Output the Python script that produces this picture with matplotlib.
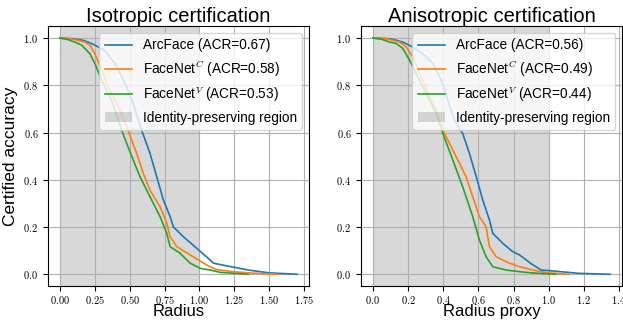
import matplotlib
matplotlib.use('Agg')
import matplotlib.pyplot as plt

# isotropic certification curves (radius, certified accuracy)
iso_arc_r = [0, 0.1, 0.17, 0.227, 0.323, 0.395, 0.467, 0.526, 0.586, 0.646, 0.694, 0.742,
             0.79, 0.813, 0.885, 0.981, 1.077, 1.1, 1.2, 1.36, 1.5, 1.7]
iso_arc_a = [1.0, 0.997, 0.99, 0.977, 0.948, 0.892, 0.808, 0.723, 0.61, 0.512, 0.413, 0.314,
             0.244, 0.201, 0.159, 0.11, 0.06, 0.047, 0.035, 0.017, 0.006, 0.0]
iso_fc_r = [0, 0.1, 0.18, 0.215, 0.25, 0.30, 0.347, 0.419, 0.479, 0.515, 0.55, 0.598, 0.646,
            0.718, 0.766, 0.79, 0.838, 0.933, 1.053, 1.12, 1.24, 1.38, 1.56]
iso_fc_a = [1.0, 0.995, 0.983, 0.97, 0.934, 0.864, 0.793, 0.709, 0.624, 0.568, 0.512, 0.427,
            0.356, 0.286, 0.216, 0.159, 0.117, 0.082, 0.039, 0.02, 0.011, 0.005, 0.0]
iso_fv_r = [0, 0.05, 0.108, 0.156, 0.215, 0.251, 0.30, 0.371, 0.443, 0.479, 0.526, 0.574,
            0.646, 0.718, 0.766, 0.79, 0.861, 0.933, 1.005, 1.077, 1.15, 1.35]
iso_fv_a = [1.0, 0.995, 0.983, 0.97, 0.934, 0.892, 0.822, 0.737, 0.61, 0.554, 0.483, 0.413,
            0.328, 0.244, 0.173, 0.117, 0.089, 0.047, 0.025, 0.018, 0.008, 0.0]

# anisotropic certification curves (radius proxy, certified accuracy)
ani_arc_r = [0, 0.1, 0.17, 0.227, 0.284, 0.341, 0.389, 0.426, 0.464, 0.511, 0.549, 0.588,
             0.625, 0.663, 0.682, 0.739, 0.795, 0.834, 0.9, 0.957, 1.04, 1.17, 1.35]
ani_arc_a = [1.0, 0.997, 0.983, 0.962, 0.934, 0.892, 0.822, 0.737, 0.652, 0.596, 0.512, 0.413,
             0.314, 0.23, 0.173, 0.131, 0.096, 0.082, 0.045, 0.018, 0.013, 0.004, 0.0]
ani_fc_r = [0, 0.08, 0.152, 0.19, 0.227, 0.284, 0.322, 0.36, 0.398, 0.436, 0.474, 0.53,
            0.568, 0.606, 0.644, 0.663, 0.701, 0.777, 0.834, 0.91, 0.985, 1.117]
ani_fc_a = [1.0, 0.997, 0.983, 0.962, 0.92, 0.822, 0.751, 0.695, 0.61, 0.554, 0.497, 0.413,
            0.328, 0.244, 0.201, 0.117, 0.074, 0.047, 0.032, 0.018, 0.007, 0.0]
ani_fv_r = [0, 0.05, 0.095, 0.133, 0.17, 0.209, 0.265, 0.313, 0.36, 0.398, 0.455, 0.511,
            0.568, 0.606, 0.644, 0.682, 0.758, 0.834, 0.9, 1.04]
ani_fv_a = [1.0, 0.995, 0.983, 0.977, 0.956, 0.906, 0.822, 0.751, 0.681, 0.596, 0.483, 0.37,
            0.244, 0.145, 0.074, 0.032, 0.018, 0.011, 0.006, 0.0]

panels = [
    ("Isotropic certification", "Radius",
     [(iso_arc_r, iso_arc_a, "ArcFace (ACR=0.67)"),
      (iso_fc_r, iso_fc_a, "FaceNet$^C$ (ACR=0.58)"),
      (iso_fv_r, iso_fv_a, "FaceNet$^V$ (ACR=0.53)")],
     [0, 0.25, 0.5, 0.75, 1.0, 1.25, 1.5, 1.75], "${:.2f}$"),
    ("Anisotropic certification", "Radius proxy",
     [(ani_arc_r, ani_arc_a, "ArcFace (ACR=0.56)"),
      (ani_fc_r, ani_fc_a, "FaceNet$^C$ (ACR=0.49)"),
      (ani_fv_r, ani_fv_a, "FaceNet$^V$ (ACR=0.44)")],
     [0, 0.2, 0.4, 0.6, 0.8, 1.0, 1.2, 1.4], "${:.1f}$"),
]

plt.rcParams['font.family'] = ['Liberation Sans', 'DejaVu Sans']
plt.rcParams['mathtext.fontset'] = 'cm'

fig = plt.figure(figsize=(6.23, 3.24), dpi=100)
lefts = [0.077, 0.5795]
colors = ['#1f77b4', '#ff7f0e', '#2ca02c']

for i, (title, xlabel, series, xticks, fmt) in enumerate(panels):
    ax = fig.add_axes([lefts[i], 0.117, 0.419, 0.802])
    for (r, a, lab), c in zip(series, colors):
        ax.plot(r, a, color=c, lw=1.2, label=lab)
    ax.axvspan(0, 1, color='gray', alpha=0.3, lw=0, label="Identity-preserving region")
    ax.set_xticks(xticks)
    ax.set_xticklabels([fmt.format(t) for t in xticks], fontsize=7.5)
    yt = [0, 0.2, 0.4, 0.6, 0.8, 1.0]
    ax.set_yticks(yt)
    ax.set_yticklabels(["${:.1f}$".format(t) for t in yt], fontsize=7.5)
    ax.tick_params(axis='x', pad=2)
    ax.set_ylim(-0.05, 1.05)
    ax.grid(True)
    ax.set_title(title, fontsize=14.5, pad=3)
    ax.set_xlabel(xlabel, fontsize=12, labelpad=-1)
    if i == 0:
        ax.set_ylabel("Certified accuracy", fontsize=12.5, labelpad=4)
    ax.legend(loc='upper right', fontsize=9.8)

fig.savefig("out.png", dpi=100)
